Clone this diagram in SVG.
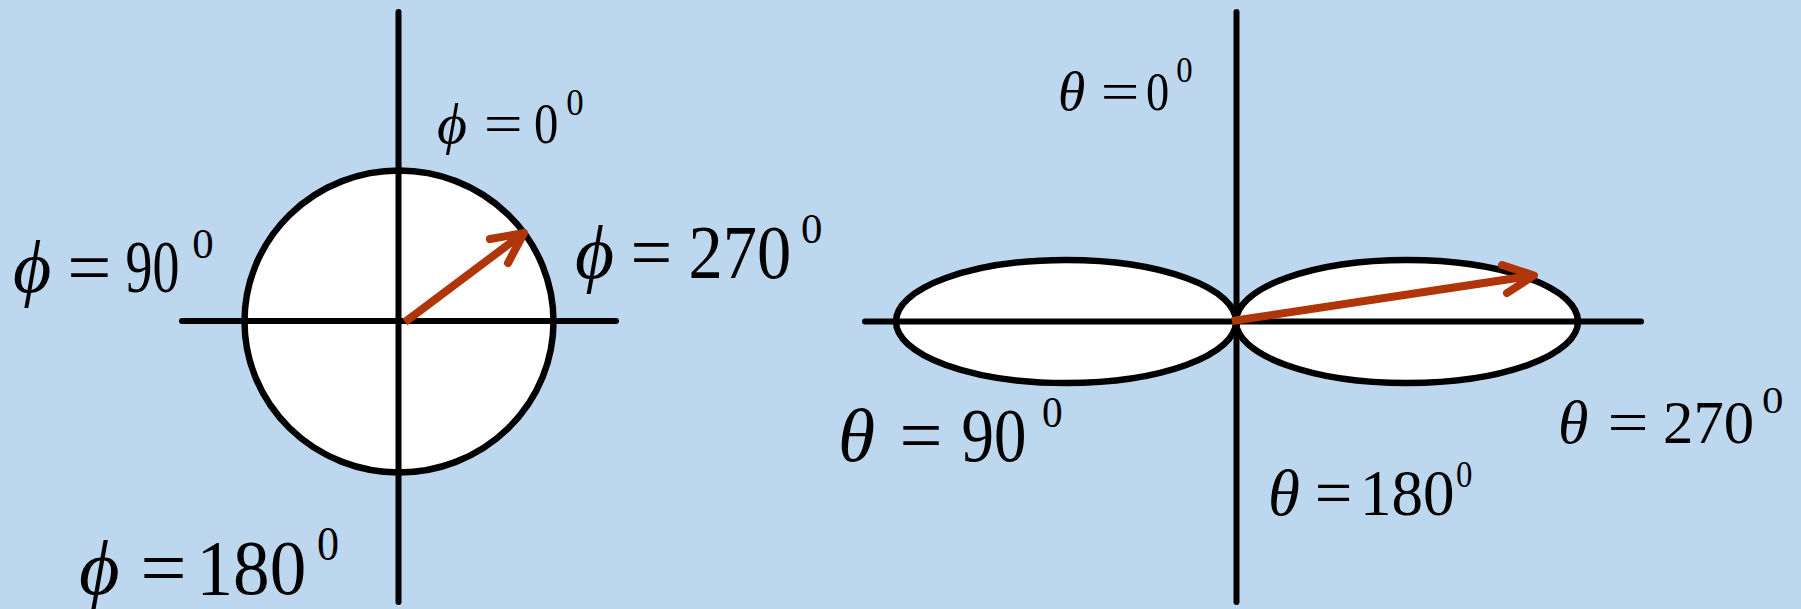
<svg xmlns="http://www.w3.org/2000/svg" width="1801" height="609" viewBox="0 0 1801 609">
<style>
.bg{fill:#BDD7EE}
.ax{stroke:#000;stroke-width:6;stroke-linecap:round;fill:none}
.shape{fill:#fff;stroke:#000;stroke-width:6.5}
.arr{stroke:#B03508;stroke-width:8;fill:none;stroke-linecap:butt}
.head{stroke:#B03508;stroke-width:8;fill:none;stroke-linecap:round;stroke-linejoin:round}
text{font-family:"Liberation Serif","DejaVu Serif",serif;fill:#000}
.it{font-style:italic}
</style>
<rect class="bg" x="0" y="0" width="1801" height="609"/>
<g id="left-pattern">
<ellipse class="shape" cx="399" cy="321.5" rx="154.5" ry="151"/>
</g>
<g id="right-pattern">
<ellipse class="shape" cx="1066" cy="321.5" rx="170" ry="61.5"/>
<ellipse class="shape" cx="1407" cy="321.5" rx="171" ry="61.5"/>
</g>
<g id="connectors">
<line class="ax" x1="182" y1="321" x2="616" y2="321"/>
<line class="ax" x1="398.5" y1="12" x2="398.5" y2="602"/>
<line class="ax" x1="865" y1="321.5" x2="1641" y2="321.5"/>
<line class="ax" x1="1236.5" y1="12" x2="1236.5" y2="602"/>
<line class="arr" x1="405" y1="322" x2="521" y2="235"/>
<path class="head" d="M490,239 L524,233 L508,263"/>
<line class="arr" x1="1232" y1="321" x2="1530" y2="276"/>
<path class="head" d="M1502,265 L1534,275.5 L1507,293"/>
</g>
<g id="label-phi0">
<text class="it" x="437" y="143" font-size="58">ϕ</text>
<text transform="translate(483.7,143) scale(1.19,1)" font-size="58">=</text>
<text transform="translate(534,143) scale(0.84,1)" font-size="58">0</text>
<text transform="translate(566.3,115) scale(0.92,1)" font-size="38">0</text>
</g>
<g id="label-phi90">
<text class="it" x="13" y="292" font-size="74">ϕ</text>
<text transform="translate(67.3,292) scale(1.06,1)" font-size="74">=</text>
<text transform="translate(125.6,292) scale(0.728,1)" font-size="74">90</text>
<text transform="translate(192.2,258) scale(1.02,1)" font-size="42">0</text>
</g>
<g id="label-phi270">
<text class="it" x="575" y="278" font-size="75.5">ϕ</text>
<text transform="translate(630.5,278) scale(0.98,1)" font-size="75.5">=</text>
<text transform="translate(688.5,278) scale(0.907,1)" font-size="75.5">270</text>
<text transform="translate(801,243) scale(1.02,1)" font-size="42">0</text>
</g>
<g id="label-phi180">
<text class="it" x="79" y="594" font-size="78.5">ϕ</text>
<text transform="translate(140.2,594) scale(1.05,1)" font-size="78.5">=</text>
<text transform="translate(196.5,594) scale(0.932,1)" font-size="78.5">180</text>
<text transform="translate(317,560) scale(0.91,1)" font-size="48.5">0</text>
</g>
<g id="label-theta0">
<text class="it" x="1058" y="110" font-size="55.5">θ</text>
<text transform="translate(1100.7,110) scale(1.235,1)" font-size="55.5">=</text>
<text transform="translate(1146,110) scale(0.837,1)" font-size="55.5">0</text>
<text transform="translate(1176.3,82) scale(0.91,1)" font-size="36">0</text>
</g>
<g id="label-theta90">
<text class="it" x="838" y="461" font-size="75.5">θ</text>
<text transform="translate(899.4,461) scale(1.01,1)" font-size="75.5">=</text>
<text transform="translate(961.5,461) scale(0.86,1)" font-size="75.5">90</text>
<text transform="translate(1042,427) scale(0.94,1)" font-size="44">0</text>
</g>
<g id="label-theta180">
<text class="it" x="1268" y="515" font-size="65">θ</text>
<text transform="translate(1314.7,515) scale(1.025,1)" font-size="65">=</text>
<text transform="translate(1360,515) scale(0.97,1)" font-size="65">180</text>
<text transform="translate(1456,487) scale(0.865,1)" font-size="38">0</text>
</g>
<g id="label-theta270">
<text class="it" x="1558" y="443" font-size="62">θ</text>
<text transform="translate(1607.5,443) scale(1.175,1)" font-size="62">=</text>
<text transform="translate(1663,443) scale(0.98,1)" font-size="62">270</text>
<text transform="translate(1762,413) scale(1.13,1)" font-size="38">0</text>
</g>
</svg>
